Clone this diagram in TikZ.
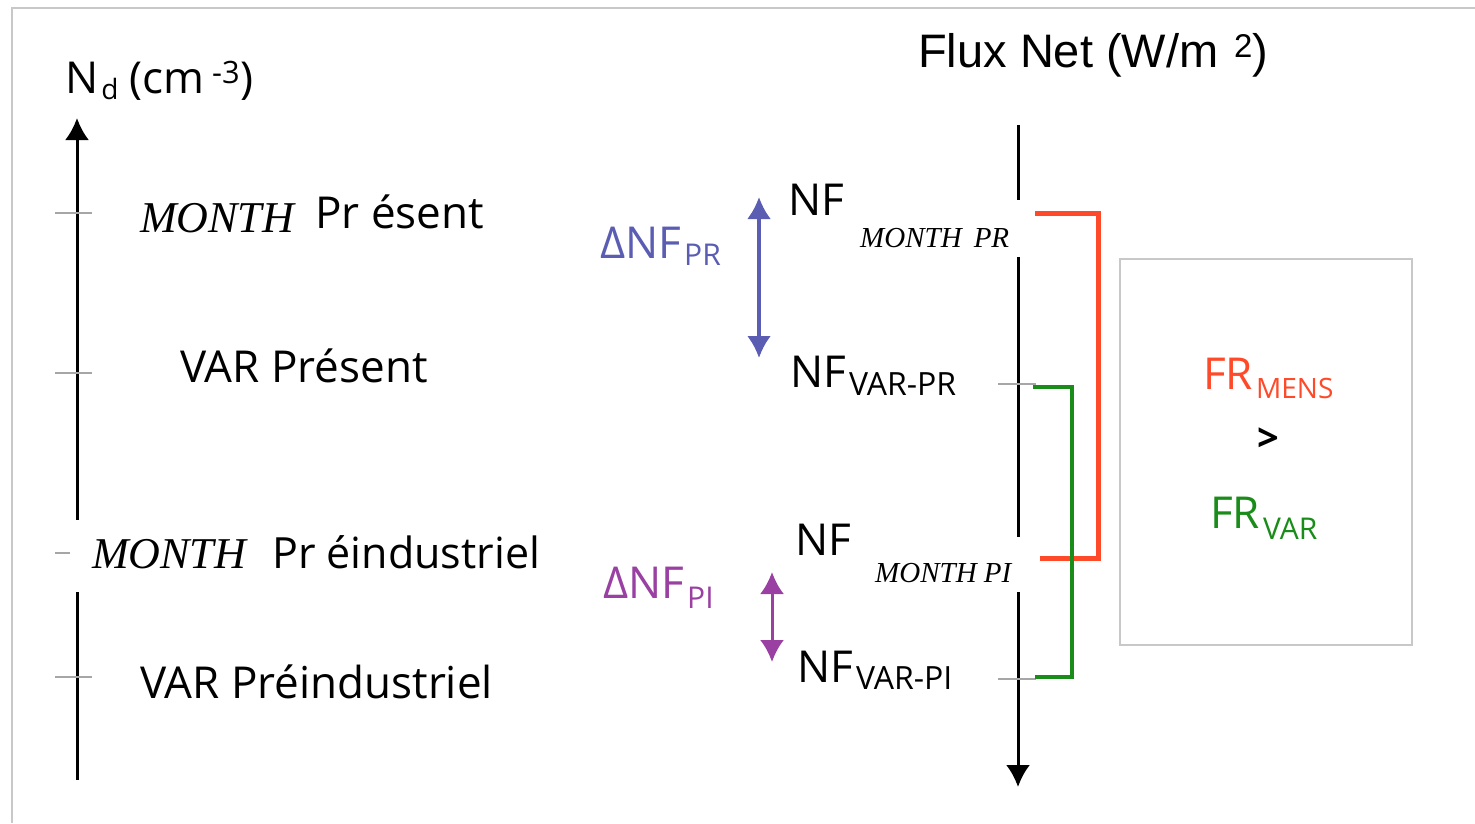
\documentclass[tikz,border=0pt]{standalone}
\usepackage{fontspec}
\setmainfont{Open Sans}
\newfontfamily\tms{Liberation Serif}
\newfontfamily\arl{Liberation Sans}
\usetikzlibrary{arrows.meta}
\definecolor{fgblue}{HTML}{5A5DB2}
\definecolor{fgpurple}{HTML}{9A40A2}
\definecolor{fgred}{HTML}{FF4A2A}
\definecolor{fggreen}{HTML}{1A8C1A}
\definecolor{frame}{HTML}{C8C8C8}
\newcommand\lowsub[3]{\kern3pt\raisebox{-#1pt}{\fontsize{#2}{#2}\selectfont #3}}
\begin{document}
\begin{tikzpicture}[x=1pt,y=-1pt,
  lbl/.style={anchor=base west,inner sep=0pt,font=\fontsize{44}{44}\selectfont},
  itl/.style={anchor=base west,inner sep=0pt,font=\tms\itshape\fontsize{44}{44}\selectfont},
  itsmall/.style={anchor=base west,inner sep=0pt,font=\tms\itshape\fontsize{29}{29}\selectfont},
  wbox/.style={fill=white,draw=none,inner sep=0pt,anchor=north west},
  tick/.style={draw=gray!70,line width=1.2pt},
  axis/.style={line width=3pt,-{Latex[length=22pt,width=24pt]}},
  dbl/.style={line width=3.5pt,{Latex[length=22pt,width=24pt]}-{Latex[length=22pt,width=24pt]}},
  brk/.style={line width=5pt,line join=miter}
]
\useasboundingbox (0,0) rectangle (1475,823);
% frame
\draw[frame,line width=2pt] (12,823) -- (12,8) -- (1475,8);

% left axis
\coordinate (lb) at (77,780);
\coordinate (lt) at (77,118);
\draw[axis] (lb) -- (lt);
\foreach \yy/\nm in {213/t1,373/t2,553/t3,677/t4}{
  \coordinate (\nm a) at (55,\yy); \coordinate (\nm b) at (92,\yy);
  \draw[tick] (\nm a) -- (\nm b);}
\node[lbl] (nd) at (65,93) {N\lowsub{6}{28}{d} (cm\,\textsuperscript{-3})};

% right axis
\coordinate (rt) at (1018,125);
\coordinate (rb) at (1018,787);
\draw[axis] (rt) -- (rb);
\foreach \yy/\nm in {384/r1,679/r2}{
  \coordinate (\nm a) at (998,\yy); \coordinate (\nm b) at (1036,\yy);
  \draw[tick] (\nm a) -- (\nm b);}
\node[anchor=base west,inner sep=0pt,font=\arl\fontsize{47}{47}\selectfont] (flux) at (918,67) {Flux Net (W/m\,\,\textsuperscript{2})};

% left labels
\node[itl] (m1) at (140,232) {MONTH};
\node[lbl] (p1) at (315,228) {Pr ésent};
\node[lbl] (v1) at (180,382) {VAR Présent};
\node[wbox,minimum width=470,minimum height=72] (wb1) at (70,520) {};
\node[itl] (m2) at (92,568) {MONTH};
\node[lbl,font=\fontsize{43}{43}\selectfont] (p2) at (272,568) {Pr éindustriel};
\node[lbl] (v2) at (140,698) {VAR Préindustriel};

% NF labels
\node[lbl] (nf1) at (788,215) {NF};
\node[wbox,minimum width=165,minimum height=57] (wb2) at (855,200) {};
\node[itsmall] (mpr) at (860,247) {MONTH\, PR};
\node[lbl] (nf2) at (790,387) {NF\lowsub{8}{32}{VAR-PR}};
\node[lbl] (nf3) at (795,555) {NF};
\node[wbox,minimum width=150,minimum height=55] (wb3) at (870,537) {};
\node[itsmall] (mpi) at (875,582) {MONTH PI};
\node[lbl] (nf4) at (797,682) {NF\lowsub{7}{32}{VAR-PI}};

% deltas
\node[lbl,text=fgblue] (dpr) at (600,258) {ΔNF\lowsub{7}{30}{PR}};
\coordinate (ba) at (759,197); \coordinate (bb) at (759,358);
\draw[dbl,fgblue] (ba) -- (bb);
\node[lbl,text=fgpurple] (dpi) at (603,598) {ΔNF\lowsub{10}{30}{PI}};
\coordinate (pa) at (772,572); \coordinate (pb) at (772,662);
\draw[dbl,fgpurple,line width=3pt] (pa) -- (pb);

% brackets
\coordinate (ra) at (1035,213); \coordinate (rc) at (1040,558);
\draw[brk,fgred] (ra) -- (1098,213) -- (1098,558) -- (rc);
\coordinate (ga) at (1033,387); \coordinate (gc) at (1035,677);
\draw[brk,fggreen,line width=4pt] (ga) -- (1072,387) -- (1072,677) -- (gc);

% result box
\node[draw=frame,line width=2pt,minimum width=292,minimum height=386,anchor=north west,inner sep=0pt] (res) at (1119,258) {};
\node[lbl,text=fgred] (frm) at (1203,389) {FR\lowsub{9}{28}{MENS}};
\node[anchor=center,inner sep=0pt,font=\bfseries\fontsize{38}{38}\selectfont] (gt) at (1268,440) {>};
\node[lbl,text=fggreen] (frv) at (1210,528) {FR\lowsub{11}{30}{VAR}};
\end{tikzpicture}
\end{document}
